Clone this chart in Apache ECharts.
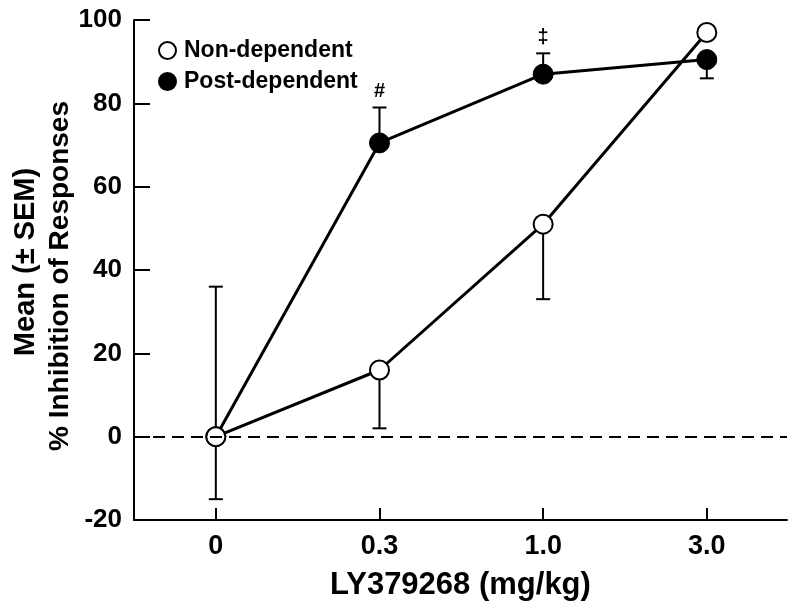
<!DOCTYPE html>
<html>
<head>
<meta charset="utf-8">
<script src="https://cdn.jsdelivr.net/npm/echarts@6/dist/echarts.min.js"></script>
<style>html,body{margin:0;padding:0;background:#fff}#c{width:800px;height:612px}</style>
</head>
<body>
<div id="c"></div>
<script>
// ---- data ----
const xLabels = ['0', '0.3', '1.0', '3.0'];
const nonDep = [0, 16, 51, 97];
const nonDepLow = [-15, 2, 33, null];
const nonDepHigh = [null, null, null, null];
const postDep = [0, 70.5, 87, 90.5];
const postLow = [null, null, null, 86];
const postHigh = [36, 79, 92, null];
const signif = ['', '#', '\u2021', ''];

const FONT = '"Liberation Sans", Arial, Helvetica, sans-serif';

const errData = [];
xLabels.forEach((l, i) => {
  errData.push([i, nonDep[i], nonDepLow[i], nonDepHigh[i], '']);
  errData.push([i, postDep[i], postLow[i], postHigh[i], signif[i]]);
});

const chart = echarts.init(document.getElementById('c'));
chart.setOption({
  backgroundColor: '#fff',
  animation: false,
  grid: { left: 134, right: 13, top: 20, bottom: 92 },
  legend: {
    orient: 'vertical', left: 153, top: 34, itemGap: 8,
    itemWidth: 17, itemHeight: 17,
    textStyle: { fontFamily: FONT, fontWeight: 'bold', fontSize: 23, color: '#000', padding: [0, 0, 0, 3] },
    data: [
      { name: 'Non-dependent', icon: 'circle', itemStyle: { color: '#fff', borderColor: '#000', borderWidth: 2 } },
      { name: 'Post-dependent', icon: 'circle', itemStyle: { color: '#000', borderColor: '#000', borderWidth: 2 } }
    ]
  },
  xAxis: {
    type: 'value', min: -0.5, max: 3.49,
    splitLine: { show: false },
    axisLine: { onZero: false, lineStyle: { color: '#000', width: 2 } },
    axisTick: { inside: true, length: 12, lineStyle: { color: '#000', width: 2 }, customValues: [0, 1, 2, 3] },
    axisLabel: {
      customValues: [0, 1, 2, 3], margin: 13,
      formatter: v => xLabels[Math.round(v)],
      fontFamily: FONT, fontWeight: 'bold', fontSize: 27, color: '#000'
    },
    name: 'LY379268 (mg/kg)', nameLocation: 'middle', nameGap: 50,
    nameTextStyle: { fontFamily: FONT, fontWeight: 'bold', fontSize: 31, color: '#000' }
  },
  yAxis: {
    type: 'value', min: -20, max: 100, interval: 20,
    splitLine: { show: false },
    axisLine: { show: true, onZero: false, lineStyle: { color: '#000', width: 2 } },
    axisTick: { show: true, inside: true, length: 16, lineStyle: { color: '#000', width: 2 } },
    axisLabel: {
      margin: 12, formatter: v => String(v),
      fontFamily: FONT, fontWeight: 'bold', fontSize: 26, color: '#000'
    }
  },
  graphic: [
    { type: 'text', x: 26, y: 262, rotation: Math.PI / 2,
      style: { text: 'Mean (\u00b1 SEM)', font: 'bold 29px ' + FONT, fill: '#000', align: 'center', verticalAlign: 'middle' } },
    { type: 'text', x: 60, y: 276, rotation: Math.PI / 2,
      style: { text: '% Inhibition of Responses', font: 'bold 28px ' + FONT, fill: '#000', align: 'center', verticalAlign: 'middle' } }
  ],
  series: [
    {
      type: 'custom', name: 'err', z: 1, silent: true,
      data: errData,
      markLine: {
        silent: true, symbol: 'none', label: { show: false },
        lineStyle: { color: '#000', width: 2, type: [12, 7] },
        data: [{ yAxis: 0 }]
      },
      renderItem: function (params, api) {
        const x = api.value(0), v = api.value(1);
        const lo = errData[params.dataIndex][2], hi = errData[params.dataIndex][3];
        const mark = errData[params.dataIndex][4];
        const children = [];
        const pv = api.coord([x, v]);
        const cw = 7;
        if (lo != null) {
          const p = api.coord([x, lo]);
          children.push({ type: 'line', shape: { x1: pv[0], y1: pv[1], x2: p[0], y2: p[1] }, style: { stroke: '#000', lineWidth: 2 } });
          children.push({ type: 'line', shape: { x1: p[0] - cw, y1: p[1], x2: p[0] + cw, y2: p[1] }, style: { stroke: '#000', lineWidth: 2 } });
        }
        if (hi != null) {
          const p = api.coord([x, hi]);
          children.push({ type: 'line', shape: { x1: pv[0], y1: pv[1], x2: p[0], y2: p[1] }, style: { stroke: '#000', lineWidth: 2 } });
          children.push({ type: 'line', shape: { x1: p[0] - cw, y1: p[1], x2: p[0] + cw, y2: p[1] }, style: { stroke: '#000', lineWidth: 2 } });
          if (mark) {
            children.push({ type: 'text', x: p[0], y: p[1] - 16,
              style: { text: mark, font: 'bold 20px ' + FONT, fill: '#000', align: 'center', verticalAlign: 'middle' } });
          }
        }
        return { type: 'group', children: children };
      }
    },
    {
      type: 'line', name: 'Post-dependent', z: 3,
      data: postDep.map((v, i) => [i, v]),
      symbol: 'circle', symbolSize: 20,
      lineStyle: { color: '#000', width: 3 },
      itemStyle: { color: '#000', borderColor: '#000', borderWidth: 1 }
    },
    {
      type: 'line', name: 'Non-dependent', z: 4,
      data: nonDep.map((v, i) => [i, v]),
      symbol: 'circle', symbolSize: 19,
      lineStyle: { color: '#000', width: 3 },
      itemStyle: { color: '#fff', borderColor: '#000', borderWidth: 2 }
    }
  ]
});
</script>
</body>
</html>
